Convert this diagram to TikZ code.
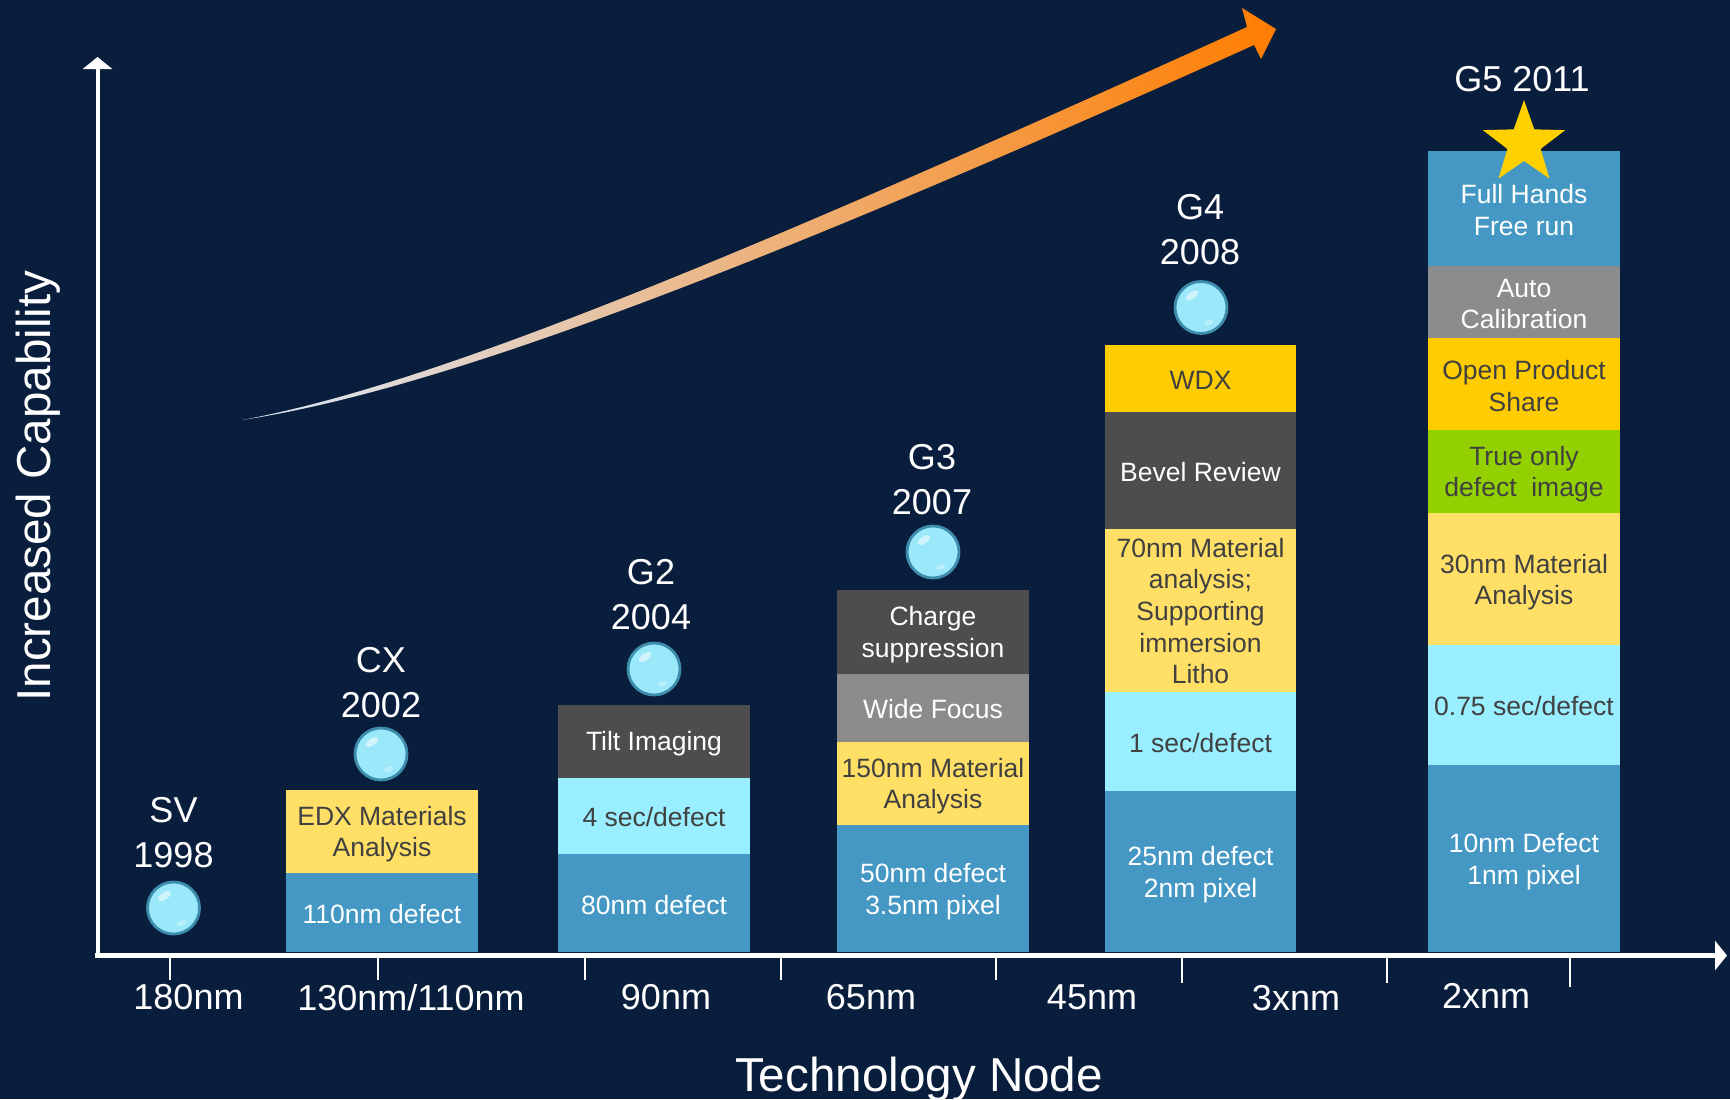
\documentclass[tikz,border=0pt]{standalone}
\usepackage{fontspec}
\setmainfont{Liberation Sans}
\usepackage{tikz}
\usetikzlibrary{arrows.meta}

\definecolor{slidebg}{RGB}{9,30,60}
\definecolor{segblue}{RGB}{70,152,196}
\definecolor{segcyan}{RGB}{153,238,255}
\definecolor{segcream}{RGB}{255,223,102}
\definecolor{seggold}{RGB}{255,204,0}
\definecolor{seggreen}{RGB}{146,208,0}
\definecolor{segdark}{RGB}{77,77,77}
\definecolor{segmid}{RGB}{140,140,140}
\definecolor{inktext}{RGB}{64,64,64}
\definecolor{bubblecyan}{RGB}{155,232,250}
\definecolor{bubbleedge}{RGB}{62,140,172}
\definecolor{trendstart}{RGB}{218,232,250}
\definecolor{trendmid}{RGB}{250,162,72}
\definecolor{trendend}{RGB}{255,125,0}
\definecolor{stargold}{RGB}{255,208,0}

\begin{document}
\begin{tikzpicture}[x=0.5pt,y=0.5pt,yscale=-1,xscale=1,
  bartext/.style={font=\fontsize{13.25}{15.85}\selectfont, align=center, inner sep=0pt, text=inktext},
  barwhite/.style={bartext, text=white},
  genlabel/.style={font=\fontsize{18}{22.5}\selectfont, align=center, inner sep=0pt, text=white},
  nodelabel/.style={font=\fontsize{18}{21.6}\selectfont, anchor=base, inner sep=0pt, text=white},
  axistitle/.style={font=\fontsize{23.8}{28}\selectfont, anchor=base, inner sep=0pt, text=white},
  axisline/.style={draw=white, -{Triangle[length=6pt,width=14.5pt]}},
  tickline/.style={draw=white, line width=1.25pt},
  bubble/.style={circle, fill=bubblecyan, draw=bubbleedge, line width=1.4pt, minimum size=26pt, inner sep=0pt},
  shine/.style={fill=white, opacity=0.55}
]
\useasboundingbox (0,0) rectangle (1730,1099);
\fill[slidebg] (0,0) rectangle (1730,1099);

%Trend arrow, shaded
\shade[left color=trendstart, middle color=trendmid, right color=trendend]
  (242,420) .. controls (420,387) and (697,277) .. (1247,27)
  -- (1242,8) -- (1276,29) -- (1261,59) -- (1254,45)
  .. controls (703,293) and (420,393) .. (242,420) -- cycle ;

%Axes
\coordinate (origin) at (97.5,958);
\coordinate (ytop) at (97.5,57);
\coordinate (xstart) at (95,955.5);
\coordinate (xend) at (1727,955.5);
\draw[axisline, line width=2pt] (origin) -- (ytop);
\draw[axisline, line width=2.5pt] (xstart) -- (xend);
\foreach \tx/\ty in {170/980, 378/980, 585/980, 781/980, 996/980, 1182/983, 1387/983, 1570/987}
  \draw[tickline] (\tx,957) -- (\tx,\ty);

% Bar: CX 2002
\fill[segcream] (286,790) rectangle (478,872.7);
\fill[segblue] (286,872.7) rectangle (478,951.7);
\node[bartext] (cxedx) at (382,834) {EDX Materials\\Analysis};
\node[barwhite] (cxdefect) at (382,914.5) {110nm defect};

% Bar: G2 2004
\fill[segdark] (558,705) rectangle (750,778);
\fill[segcyan] (558,778) rectangle (750,854);
\fill[segblue] (558,854) rectangle (750,952);
\node[barwhite] (gtwotilt) at (654,744) {Tilt Imaging};
\node[bartext] (gtwospeed) at (654,817) {4 sec/defect};
\node[barwhite] (gtwodefect) at (654,905) {80nm defect};

% Bar: G3 2007
\fill[segdark] (837,590) rectangle (1029,674);
\fill[segmid] (837,674) rectangle (1029,742);
\fill[segcream] (837,742) rectangle (1029,825);
\fill[segblue] (837,825) rectangle (1029,952);
\node[barwhite] (gthreecharge) at (933,634.5) {Charge\\suppression};
\node[barwhite] (gthreefocus) at (933,709) {Wide Focus};
\node[bartext] (gthreemat) at (933,786) {150nm Material\\Analysis};
\node[barwhite] (gthreedefect) at (933,891.5) {50nm defect\\3.5nm pixel};

% Bar: G4 2008
\fill[seggold] (1105,345) rectangle (1296,412);
\fill[segdark] (1105,412) rectangle (1296,529);
\fill[segcream] (1105,529) rectangle (1296,692);
\fill[segcyan] (1105,692) rectangle (1296,791);
\fill[segblue] (1105,791) rectangle (1296,952);
\node[bartext] (gfourwdx) at (1200.5,380.5) {WDX};
\node[barwhite] (gfourbevel) at (1200.5,472) {Bevel Review};
\node[bartext] (gfourmat) at (1200.5,611) {70nm Material\\analysis;\\Supporting\\immersion\\Litho};
\node[bartext] (gfourspeed) at (1200.5,743.5) {1 sec/defect};
\node[barwhite] (gfourdefect) at (1200.5,874.5) {25nm defect\\2nm pixel};

% Bar: G5 2011
\fill[segblue] (1428,151) rectangle (1620,266);
\fill[segmid] (1428,266) rectangle (1620,338);
\fill[seggold] (1428,338) rectangle (1620,430);
\fill[seggreen] (1428,430) rectangle (1620,513);
\fill[segcream] (1428,513) rectangle (1620,645);
\fill[segcyan] (1428,645) rectangle (1620,765);
\fill[segblue] (1428,765) rectangle (1620,952);
\node[barwhite] (gfivehands) at (1524,210) {Full Hands\\Free run};
\node[barwhite] (gfivecal) at (1524,304) {Auto\\Calibration};
\node[bartext] (gfiveshare) at (1524,386) {Open Product\\Share};
\node[bartext] (gfivetrue) at (1524,474) {True only\\defect~ image};
\node[bartext] (gfivemat) at (1524,582) {30nm Material\\Analysis};
\node[bartext] (gfivespeed) at (1524,706.5) {0.75 sec/defect};
\node[barwhite] (gfivedefect) at (1524,861.5) {10nm Defect\\1nm pixel};

%Shape: Star
\fill[stargold, shift={(1524,143.5)}] (-90:43.4) -- (-54:17.5) -- (-18:43.4) -- (18:17.5) -- (54:43.4)
  -- (90:17.5) -- (126:43.4) -- (162:17.5) -- (198:43.4) -- (234:17.5) -- cycle ;

%Bubbles
\foreach \nm/\bx/\by in {sv/173.5/908, cx/381/754, gtwo/654/669, gthree/933/552, gfour/1201/307.5} {
  \node[bubble] (bub\nm) at (\bx,\by) {};
  \fill[shine] ([shift={(-9,-12)}]bub\nm.center) ellipse [x radius=7, y radius=3.5, rotate=-35];
  \fill[shine, opacity=0.3] ([shift={(8,15)}]bub\nm.center) ellipse [x radius=5, y radius=2.5, rotate=-20];
}

% Text Node: generations
\node[genlabel] (svlabel) at (173.5,832.6) {SV\\1998};
\node[genlabel] (cxlabel) at (381,682.6) {CX\\2002};
\node[genlabel] (gtwolabel) at (651,594.6) {G2\\2004};
\node[genlabel] (gthreelabel) at (932,479.6) {G3\\2007};
\node[genlabel] (gfourlabel) at (1200,229.6) {G4\\2008};
\node[genlabel] (gfivelabel) at (1522,79.5) {G5 2011};

% Text Node: technology nodes
\node[nodelabel] (nmoneeighty) at (188.5,1009) {180nm};
\node[nodelabel] (nmonethirty) at (411,1010) {130nm/110nm};
\node[nodelabel] (nmninety) at (666,1009) {90nm};
\node[nodelabel] (nmsixtyfive) at (871,1009) {65nm};
\node[nodelabel] (nmfortyfive) at (1092,1009) {45nm};
\node[nodelabel] (nmthreex) at (1296,1010) {3xnm};
\node[nodelabel] (nmtwox) at (1486,1008) {2xnm};

% Text Node: axis titles
\node[axistitle] (xtitle) at (919,1091) {Technology Node};
\node[axistitle, rotate=90] (ytitle) at (50,486) {Increased Capability};

\end{tikzpicture}
\end{document}
